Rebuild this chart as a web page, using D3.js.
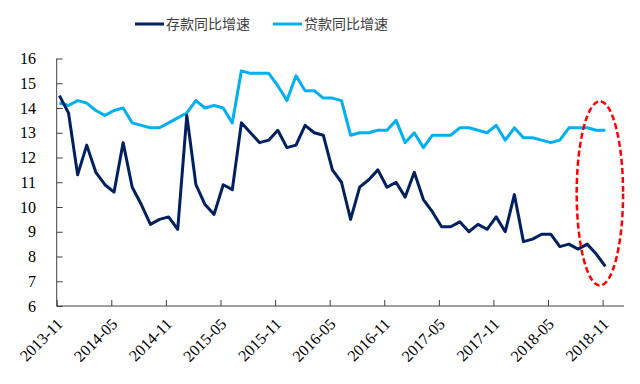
<!DOCTYPE html>
<html>
<head>
<meta charset="utf-8">
<script src="https://cdn.jsdelivr.net/npm/d3@7"></script>
<style>
  body { margin: 0; background: #fff; }
  svg { display: block; }
</style>
</head>
<body>
<svg id="chart"></svg>
<script>
// monthly data, 2013-11 .. 2018-11
const deposits = [14.5, 13.8, 11.3, 12.5, 11.4, 10.9, 10.6, 12.6, 10.8, 10.1,
  9.3, 9.5, 9.6, 9.1, 13.7, 10.9, 10.1, 9.7, 10.9, 10.7,
  13.4, 13.0, 12.6, 12.7, 13.1, 12.4, 12.5, 13.3, 13.0, 12.9,
  11.5, 11.0, 9.5, 10.8, 11.1, 11.5, 10.8, 11.0, 10.4, 11.4,
  10.3, 9.8, 9.2, 9.2, 9.4, 9.0, 9.3, 9.1, 9.6, 9.0,
  10.5, 8.6, 8.7, 8.9, 8.9, 8.4, 8.5, 8.3, 8.5, 8.1, 7.6];
const loans = [14.2, 14.1, 14.3, 14.2, 13.9, 13.7, 13.9, 14.0, 13.4, 13.3,
  13.2, 13.2, 13.4, 13.6, 13.8, 14.3, 14.0, 14.1, 14.0, 13.4,
  15.5, 15.4, 15.4, 15.4, 14.9, 14.3, 15.3, 14.7, 14.7, 14.4,
  14.4, 14.3, 12.9, 13.0, 13.0, 13.1, 13.1, 13.5, 12.6, 13.0,
  12.4, 12.9, 12.9, 12.9, 13.2, 13.2, 13.1, 13.0, 13.3, 12.7,
  13.2, 12.8, 12.8, 12.7, 12.6, 12.7, 13.2, 13.2, 13.2, 13.1, 13.1];
const tickLabels = ["2013-11", "2014-05", "2014-11", "2015-05", "2015-11", "2016-05",
  "2016-11", "2017-05", "2017-11", "2018-05", "2018-11"];
const yTicks = [6, 7, 8, 9, 10, 11, 12, 13, 14, 15, 16];
const seriesNames = ["存款同比增速", "贷款同比增速"];

(() => {
  const width = 640, height = 384;
  const svg = d3.select("#chart").attr("width", width).attr("height", height);

  const x = d3.scaleLinear().domain([0, 62.35]).range([56.7, 624]);
  const y = d3.scaleLinear().domain([6, 16]).range([306, 58.5]);
  const axisColor = "#404040";
  const serif = "'Liberation Serif', 'Times New Roman', serif";

  // y axis, ticks pointing inward
  const yAxis = svg.append("g")
    .attr("transform", `translate(${x(0)},0)`)
    .call(d3.axisRight(y).tickValues(yTicks).tickSize(6).tickFormat(""));
  yAxis.select(".domain").attr("stroke", axisColor).attr("d", `M0,${y(6)}V${y(16)}`);
  yAxis.selectAll(".tick line").attr("stroke", axisColor);
  svg.append("g").selectAll("text")
    .data(yTicks)
    .enter()
    .append("text")
    .attr("x", 36)
    .attr("y", d => y(d))
    .attr("dy", "0.35em")
    .attr("text-anchor", "end")
    .attr("font-family", serif)
    .attr("font-size", "16px")
    .attr("fill", "#000")
    .text(d => d);

  // x axis
  const xTicks = tickLabels.map((d, i) => i * 6);
  const xAxis = svg.append("g")
    .attr("transform", `translate(0,${y(6)})`)
    .call(d3.axisTop(x).tickValues(xTicks).tickSize(6).tickFormat(""));
  xAxis.select(".domain").attr("stroke", axisColor).attr("d", `M${x(0)},0H${x(62.35)}`);
  xAxis.selectAll(".tick line").attr("stroke", axisColor);
  svg.append("g").selectAll("text")
    .data(tickLabels)
    .enter()
    .append("text")
    .attr("transform", (d, i) => `translate(${x(xTicks[i]) + 7},${y(6) + 19}) rotate(-45)`)
    .attr("text-anchor", "end")
    .attr("font-family", serif)
    .attr("font-size", "16px")
    .attr("fill", "#000")
    .text(d => d);

  // lines
  const colors = ["#002060", "#00B0F0"];
  const line = d3.line()
    .x((d, i) => x(i + 0.3))
    .y(d => y(d));
  [loans, deposits].forEach((s, k) => {
    svg.append("path")
      .datum(s)
      .attr("fill", "none")
      .attr("stroke", k === 0 ? colors[1] : colors[0])
      .attr("stroke-width", 3)
      .attr("stroke-linejoin", "round")
      .attr("d", line);
  });

  // red dashed ellipse annotation
  svg.append("ellipse")
    .attr("cx", x(59.7))
    .attr("cy", y(10.55))
    .attr("rx", x(59.7) - x(57.15))
    .attr("ry", y(10.55) - y(14.27))
    .attr("fill", "none")
    .attr("stroke", "#FF0000")
    .attr("stroke-width", 2.5)
    .attr("stroke-dasharray", "6,3");

  // legend
  const legend = svg.append("g").attr("class", "legend");
  const lx = [135, 273];
  seriesNames.forEach((name, k) => {
    legend.append("line")
      .attr("x1", lx[k]).attr("x2", lx[k] + 29)
      .attr("y1", 24).attr("y2", 24)
      .attr("stroke", colors[k])
      .attr("stroke-width", 3);
    legend.append("text")
      .attr("x", lx[k] + 31)
      .attr("y", 24)
      .attr("dy", "0.36em")
      .attr("font-family", "'Noto Sans CJK SC', sans-serif")
      .attr("font-size", "14px")
      .attr("fill", "#404040")
      .text(name);
  });
})();
</script>
</body>
</html>
